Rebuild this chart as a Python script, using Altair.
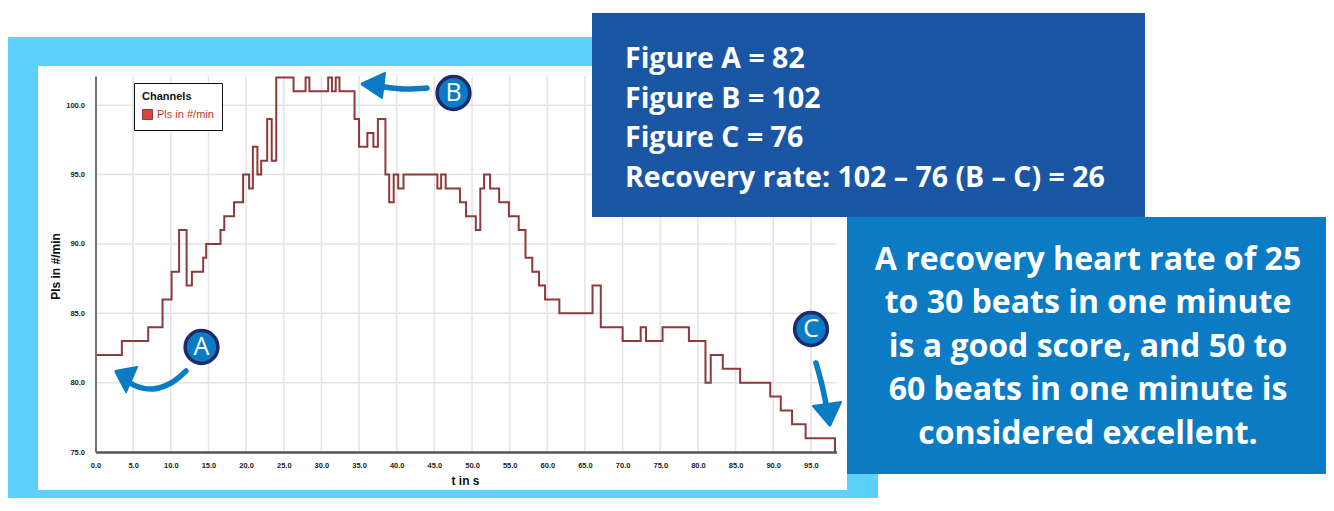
import altair as alt
import pandas as pd

# ---------------- chart values ----------------
t_start = [0, 3.5, 7.0, 8.9, 10.1, 11.1, 12.1, 12.8, 14.3, 14.7, 16.6, 17.1, 18.4,
           19.6, 20.4, 20.9, 21.5, 22.0, 22.8, 23.4, 24.0, 26.3, 27.9, 28.4, 30.9,
           31.4, 31.9, 32.4, 34.4, 35.0, 36.1, 36.9, 37.5, 38.5, 39.0, 39.6, 40.2,
           40.9, 45.4, 45.9, 46.5, 48.4, 49.2, 50.5, 51.1, 51.6, 52.4, 53.6, 54.9,
           56.2, 57.1, 58.0, 58.9, 59.7, 61.6, 66.0, 67.1, 70.0, 72.4, 73.1, 75.3,
           78.8, 81.0, 81.7, 83.3, 85.6, 89.6, 91.0, 92.5, 94.3, 98.2]
pulse = [82, 83, 84, 86, 88, 91, 87, 88, 89, 90, 91, 92, 93,
         95, 94, 97, 95, 96, 99, 96, 102, 101, 102, 101, 102,
         101, 102, 101, 99, 97, 98, 97, 99, 95, 93, 95, 94,
         95, 94, 95, 94, 93, 92, 91, 94, 95, 94, 93, 92,
         91, 89, 88, 87, 86, 85, 87, 84, 83, 84, 83, 84,
         83, 80, 82, 81, 80, 79, 78, 77, 76, 75]
assert len(t_start) == len(pulse)

x_ticks = [0, 5, 10, 15, 20, 25, 30, 35, 40, 45, 50, 55, 60, 65, 70, 75, 80, 85, 90, 95]
y_ticks = [75, 80, 85, 90, 95, 100]
channel = "Pls in #/min"

info_lines = ["Figure A = 82", "Figure B = 102", "Figure C = 76",
              "Recovery rate: 102 \u2013 76 (B \u2013 C) = 26"]
note_lines = ["A recovery heart rate of 25", "to 30 beats in one minute",
              "is a good score, and 50 to", "60 beats in one minute is",
              "considered excellent."]
marker_letters = ["A", "B", "C"]

# ---------------- layout (page pixels) ----------------
L, T, W, H = 95.5, 76.0, 741, 376          # plot area of the pulse chart
X_DOM = [0, 98.4]
Y_DOM = [75, 102.1]

LIGHT = "#5dd0fb"
DARK_BOX = "#1a56a3"
BLUE = "#0b7cc4"
NAVY = "#1f2a6b"
LINE_C = "#8e3a3a"

bg_rects = pd.DataFrame({"x": [8, 38], "x2": [878, 847], "y": [37, 66], "y2": [508, 490],
                         "f": [LIGHT, "white"]})
box_rects = pd.DataFrame({"x": [592, 847], "x2": [1145, 1330], "y": [13, 217], "y2": [217, 474],
                          "f": [DARK_BOX, BLUE]})
info_pos = pd.DataFrame({"x": [625] * 4, "y": [67.5, 107.5, 146.5, 186.5], "text": info_lines})
note_pos = pd.DataFrame({"x": [1088] * 5, "y": [269.5, 312.5, 356.5, 399.5, 443.5], "text": note_lines})
mark_pos = pd.DataFrame({"x": [201.5, 453.5, 811], "y": [347, 93, 329], "text": marker_letters})

arrow_body = pd.DataFrame({
    "id": ["A"] * 5 + ["B"] * 4 + ["C"] * 4,
    "o": list(range(5)) + list(range(4)) + list(range(4)),
    "x": [186, 171, 153, 136, 121, 427, 405, 385, 368, 816, 821, 825, 828],
    "y": [371, 383, 389, 386, 377, 88, 89, 87, 84, 363, 381, 399, 416],
})
arrow_head = pd.DataFrame({
    "id": ["A"] * 4 + ["B"] * 4 + ["C"] * 4,
    "o": list(range(4)) * 3,
    "x": [115, 137, 126, 115, 361, 385, 382, 361, 830, 813, 841, 830],
    "y": [371, 367, 392, 371, 84, 73, 98, 84, 426, 406, 402, 426],
})

# ---------------- scales ----------------
def PX(f):
    return alt.X(f"{f}:Q", scale=alt.Scale(domain=[L, L + W], nice=False, zero=False), axis=None)

def PY(f):
    return alt.Y(f"{f}:Q", scale=alt.Scale(domain=[T, T + H], reverse=True, nice=False, zero=False), axis=None)

xs = alt.Scale(domain=X_DOM, nice=False, zero=False)
ys = alt.Scale(domain=Y_DOM, nice=False, zero=False)

def rect_layer(df, color):
    return alt.Chart(df).mark_rect(color=color, opacity=1).encode(
        x=PX("x"), x2="x2:Q", y=PY("y"), y2="y2:Q")

frame = rect_layer(bg_rects.iloc[[0]], LIGHT)
panel = rect_layer(bg_rects.iloc[[1]], "white")
box1 = rect_layer(box_rects.iloc[[0]], DARK_BOX)
box2 = rect_layer(box_rects.iloc[[1]], BLUE)

vgrid = alt.Chart(pd.DataFrame({"t": x_ticks[1:]})).mark_rule(
    color="#e4e4e4", strokeWidth=1.5).encode(x=alt.X("t:Q", scale=xs, axis=None))
hgrid = alt.Chart(pd.DataFrame({"v": y_ticks[1:]})).mark_rule(
    color="#e4e4e4", strokeWidth=1.5).encode(y=alt.Y("v:Q", scale=ys, axis=None))

data = pd.DataFrame({"t": t_start, "v": pulse, "ch": channel})
line = alt.Chart(data).mark_line(interpolate="step-after", strokeWidth=2).encode(
    x=alt.X("t:Q", scale=xs, axis=alt.Axis(
        values=x_ticks, format=".1f", ticks=False, grid=False, zindex=1,
        labelFont="Liberation Sans", labelFontSize=7.5, labelFontWeight="bold",
        labelColor="#222222", labelPadding=9, labelFlush=False,
        domainColor="#555555", domainWidth=2.5,
        title="t in s", titleFont="Liberation Sans", titleFontSize=12,
        titleFontWeight="bold", titleColor="#111111",
        titleX=369.5, titleY=28, titleAlign="center", titleBaseline="middle")),
    y=alt.Y("v:Q", scale=ys, axis=alt.Axis(
        values=y_ticks, format=".1f", ticks=False, grid=False, zindex=1,
        labelFont="Liberation Sans", labelFontSize=7.5, labelFontWeight="bold",
        labelColor="#222222", labelPadding=11, labelFlush=False,
        domainColor="#707070", domainWidth=2,
        title="Pls in #/min", titleFont="Liberation Sans", titleFontSize=12,
        titleFontWeight="bold", titleColor="#111111", titleAngle=270,
        titleX=-40, titleY=190, titleAlign="center", titleBaseline="middle")),
    color=alt.Color("ch:N", scale=alt.Scale(range=[LINE_C]), legend=alt.Legend(
        orient="none", legendX=38.5, legendY=7, zindex=1,
        title="Channels", titleFont="Liberation Sans", titleFontSize=11,
        titleFontWeight="bold", titleColor="#111111", titlePadding=7,
        labelFont="Liberation Sans", labelFontSize=11, labelColor="#c0392b",
        symbolType="square", symbolSize=100, symbolFillColor="#d9453a",
        symbolStrokeColor="#7b2a23", symbolStrokeWidth=1,
        strokeColor="#111111", fillColor="white", padding=8)),
)

info_text = alt.Chart(info_pos).mark_text(
    align="left", baseline="alphabetic", font="Open Sans", fontWeight="bold",
    fontSize=28.5, color="white").encode(x=PX("x"), y=PY("y"), text="text:N")
note_text = alt.Chart(note_pos).mark_text(
    align="center", baseline="alphabetic", font="Open Sans", fontWeight="bold",
    fontSize=32, color="white").encode(x=PX("x"), y=PY("y"), text="text:N")

arrows = alt.Chart(arrow_body).mark_line(
    interpolate="cardinal", strokeWidth=5.5, strokeCap="round", color=BLUE).encode(
    x=PX("x"), y=PY("y"), detail="id:N", order="o:Q")
heads = alt.Chart(arrow_head).mark_line(
    fill=BLUE, stroke=BLUE, strokeWidth=2, strokeJoin="round").encode(
    x=PX("x"), y=PY("y"), detail="id:N", order="o:Q")

circles = alt.Chart(mark_pos).mark_circle(
    size=1075, fill=BLUE, stroke=NAVY, strokeWidth=3.5, opacity=1).encode(
    x=PX("x"), y=PY("y"))
letters = alt.Chart(mark_pos).mark_text(
    align="center", baseline="middle", font="Open Sans", fontSize=25,
    color="white").encode(x=PX("x"), y=PY("y"), text="text:N")

chart = alt.layer(
    frame, panel, vgrid, hgrid, line, box1, box2, info_text, note_text,
    arrows, heads, circles, letters
).resolve_scale(x="independent", y="independent").properties(
    width=W, height=H,
    autosize=alt.AutoSizeParams(type="none"),
    padding={"left": L - 8, "top": T - 8, "right": 1318 - (L - 8) - W, "bottom": 490 - (T - 8) - H},
    background="white",
).configure_view(stroke=None)

chart.save("out.html", embed_options={"renderer": "svg", "actions": False})
